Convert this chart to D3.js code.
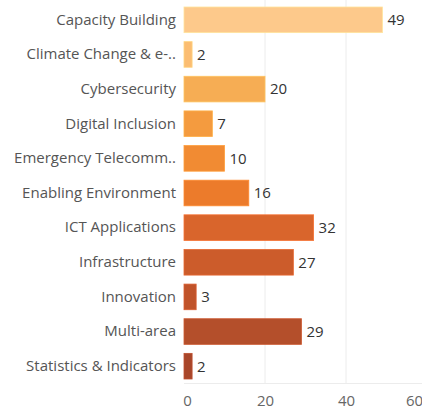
<!DOCTYPE html>
<html>
<head>
<meta charset="utf-8">
<script src="https://cdn.jsdelivr.net/npm/d3@7"></script>
<style>
  html, body { margin: 0; padding: 0; background: #fff; }
  svg { display: block; font-family: "Open Sans", "Noto Sans", sans-serif; }
</style>
</head>
<body>
<svg id="chart" width="422" height="410"></svg>
<script>
// Project counts by thematic area
const categories = [
  "Capacity Building",
  "Climate Change & e-..",
  "Cybersecurity",
  "Digital Inclusion",
  "Emergency Telecomm..",
  "Enabling Environment",
  "ICT Applications",
  "Infrastructure",
  "Innovation",
  "Multi-area",
  "Statistics & Indicators"
];
const counts = [49, 2, 20, 7, 10, 16, 32, 27, 3, 29, 2];
const barColors = [
  "#fdc98b", "#fbbd72", "#f6ad54", "#f49b3f", "#f18b33", "#ec7b2b",
  "#d9652c", "#cc5c2b", "#c0532a", "#b44f2b", "#a8462a"
];
const xTicks = [0, 20, 40, 60];

const svg = d3.select("#chart");
const x0 = 184, x1 = 427;
const yTop = 2.5, yBottom = 383.5;

const x = d3.scaleLinear().domain([0, 60]).range([x0, x1]);
const y = d3.scaleBand().domain(categories).range([yTop, yBottom]).paddingInner(0.26).paddingOuter(0.13);

// Gridlines
svg.append("g")
  .selectAll("line")
  .data(xTicks.filter(d => d > 0))
  .join("line")
  .attr("x1", d => x(d)).attr("x2", d => x(d))
  .attr("y1", 0).attr("y2", yBottom)
  .attr("stroke", "#ececec").attr("stroke-width", 1);

svg.append("line")
  .attr("x1", x0).attr("x2", 422)
  .attr("y1", yBottom).attr("y2", yBottom)
  .attr("stroke", "#ececec");

// Bars
svg.append("g")
  .selectAll("rect")
  .data(categories)
  .join("rect")
  .attr("x", x(0))
  .attr("y", d => y(d))
  .attr("width", (d, i) => x(counts[i]) - x(0))
  .attr("height", y.bandwidth())
  .attr("fill", (d, i) => barColors[i])
  .attr("stroke", (d, i) => d3.color(barColors[i]).brighter(0.35))
  .attr("stroke-width", 0.8);

// Value labels
svg.append("g")
  .selectAll("text")
  .data(categories)
  .join("text")
  .attr("x", (d, i) => x(counts[i]) + 5)
  .attr("y", d => y(d) + y.bandwidth() / 2)
  .attr("dy", "0.36em")
  .attr("font-size", 15)
  .attr("fill", "#333")
  .text((d, i) => counts[i]);

// Category axis
const yAxis = svg.append("g")
  .attr("transform", `translate(${x0 - 8},0)`)
  .call(d3.axisLeft(y).tickSize(0).tickPadding(0));
yAxis.select(".domain").remove();
yAxis.selectAll("text")
  .attr("font-size", 15)
  .attr("font-family", "'Open Sans', sans-serif")
  .attr("fill", "#555");

// Value axis
const xAxis = svg.append("g")
  .attr("transform", `translate(0,${yBottom})`)
  .call(d3.axisBottom(x).tickValues(xTicks).tickSize(0).tickPadding(12));
xAxis.select(".domain").remove();
xAxis.selectAll("text")
  .attr("font-size", 15)
  .attr("font-family", "'Open Sans', sans-serif")
  .attr("fill", "#666")
  .attr("dx", d => d === 0 ? 3 : d === 60 ? -13 : 0);
</script>
</body>
</html>
